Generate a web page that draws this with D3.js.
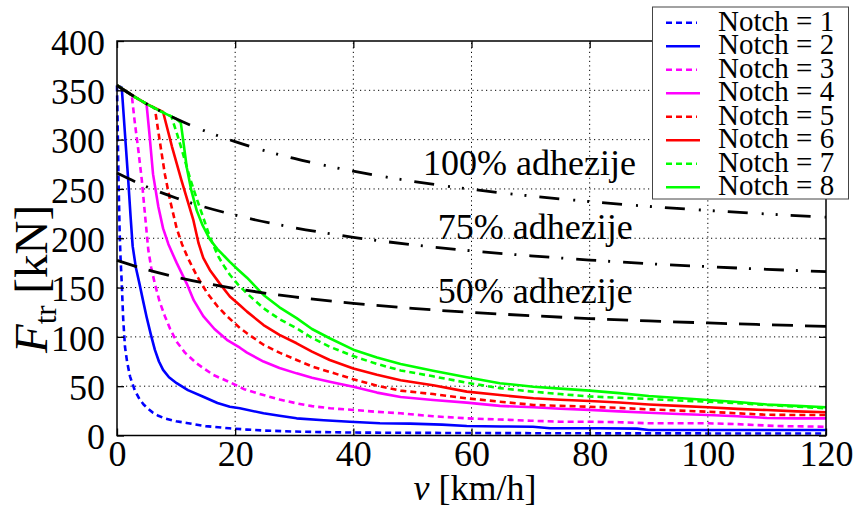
<!DOCTYPE html>
<html>
<head>
<meta charset="utf-8">
<script src="https://cdn.jsdelivr.net/npm/d3@7"></script>
<style>
  html, body { margin: 0; padding: 0; background: #fff; }
  svg { display: block; font-family: "Liberation Serif", "Times New Roman", serif; }
</style>
</head>
<body>
<svg id="chart" width="859" height="507"></svg>
<script>
// ---- data ----
const xTicks = [0, 20, 40, 60, 80, 100, 120];
const yTicks = [0, 50, 100, 150, 200, 250, 300, 350, 400];

const adhSpeeds = [0, 5, 10, 20, 30, 40, 50, 60, 70, 80, 90, 100, 110, 120];
const adh100 = [354.9, 336.3, 321.1, 297.9, 280.9, 268.0, 257.8, 249.6, 242.9, 237.2, 232.3, 228.2, 224.6, 221.4];
const adh75  = [266.2, 252.2, 240.8, 223.4, 210.7, 201.0, 193.4, 187.2, 182.2, 177.9, 174.2, 171.2, 168.5, 166.1];
const adh50  = [177.5, 168.2, 160.6, 149.0, 140.5, 134.0, 128.9, 124.8, 121.5, 118.6, 116.2, 114.1, 112.3, 110.7];
const adhLabels = ["100% adhezije", "75% adhezije", "50% adhezije"];
const adhLabelAnchor = [[51.8, 264.2], [54.3, 199.3], [54.3, 134.4]];

const notch1 = [[0,355],[0.1,320],[0.25,262],[0.45,205],[0.6,180],[0.8,155],[1.05,118],[1.35,90],[1.7,75],[2.2,60],[3,46],[3.8,37],[4.5,31.5],[5.3,27],[6.1,23],[7,20],[8,17.5],[10,14.5],[11.8,12.7],[15,9.5],[19,7.3],[22,6],[25,5],[30,4],[35,3.4],[40,3],[50,2.7],[60,2.5],[80,2.2],[100,2.1],[120,2]];
const notch2 = [[0,355],[0.8,353],[1.3,310],[1.9,259],[2.3,222],[2.65,192],[3.2,170],[3.8,154],[4.4,137],[5,120.5],[5.7,103],[6.4,87],[7.1,75],[7.8,66.5],[8.8,59],[10.1,53],[12,46],[14.6,39.3],[17,33],[19.1,29.2],[20.8,27.6],[24.8,22.5],[27.5,20],[30.4,17.4],[35,15.5],[39.4,14],[44.5,12.4],[49.6,12],[55,11],[59.2,9.6],[65,9.2],[70.4,8.9],[73.3,7.3],[81.8,7.3],[88,7],[90,5.6],[120,5.6]];
const notch3 = [[0,355],[2.5,345],[3,318],[3.6,290],[4.2,259],[4.8,220],[5.3,188],[5.8,170],[6.4,154],[7.2,136],[8.1,121],[9,108],[10.1,95],[11.5,84],[13.5,73],[16.3,61.4],[19.1,54],[21.5,47],[24.8,41],[27.5,36.5],[30.4,32.6],[33,29.8],[36.1,27.6],[40,25.9],[44,24],[48,22.5],[53.5,19.5],[59.2,17.4],[64.8,16.2],[70,15],[75,14],[80,14],[85,13.5],[90,12.4],[100,12.4],[105,11.5],[111.7,9.6],[120,8.9]];
const notch4 = [[0,355],[2.5,345.1],[5,336],[5.5,305],[6.1,265],[7,232],[7.8,210],[8.7,194],[9.5,183],[10.1,175],[11.8,154],[13,137],[14.6,121],[16.5,108],[18.6,97],[20.8,89],[22,84],[24.8,75],[27.5,68.5],[30.4,63],[33,58.5],[36,54.6],[40,49.5],[44,43.5],[48,39],[53.5,36],[59.2,33.3],[64.8,30],[70.5,28.6],[75,27.2],[80,26],[85,24.5],[90,23],[95,21.8],[100,20.8],[105,19.5],[110,17.8],[115,17.4],[120,17.4]];
const notch5 = [[0,355],[2.5,345.1],[5,336.3],[6.4,332],[7.2,300],[8.1,265],[9,238],[10.1,210],[11,194],[12,180],[13.5,162],[15.2,145],[17,131],[18.6,121],[20.8,109],[22,103.6],[24.8,92],[27.5,84],[30.4,76.6],[33,70],[36,64.5],[40,57],[44,50.5],[48,45.5],[53.5,42],[59.2,37.7],[64.8,34.3],[70.5,31],[75,30],[80,29.2],[85,28],[90,26.5],[95,25.3],[100,24.1],[105,22.5],[110,21],[115,20.8],[120,20.8]];
const notch6 = [[0,355],[2.5,345.1],[5,336.3],[7.8,328],[9.3,293],[10.9,259],[12.9,219],[13.8,195],[14.6,180],[15.8,167],[17.4,154],[19.1,141],[20.8,132],[22,125.6],[24.8,112],[27.5,102],[30.4,93.5],[33,85],[36,76.6],[40,68],[44,61.5],[48,56],[53.5,51],[59.2,44.5],[64.8,41],[70.5,37.7],[75,36.3],[80,35],[85,33.5],[90,31.5],[95,30],[100,28.6],[105,27],[110,25.8],[115,24.5],[120,23.5]];
const notch7 = [[0,355],[2.5,345.1],[5,336.3],[7.5,328.4],[9.2,323.5],[10.2,305],[11.2,285],[12.4,260],[13.5,240],[14.6,221],[15.5,205],[16.3,193],[17.2,181],[18.2,171],[19.1,163],[20.5,153],[22,144],[24.8,129],[27.5,118],[30.4,108.7],[33,99],[36,90],[40,80.5],[44,72.5],[48,66],[53.5,60],[59.2,53.5],[64.8,48],[70.5,44.4],[75,42],[80,39.6],[85,38.2],[90,37],[95,35.5],[100,34.3],[105,32.8],[110,31],[115,29.2],[120,27.6]];
const notch8 = [[0,355],[2.5,345.1],[5,336.3],[7.5,328.4],[10,321.1],[10.8,317],[11.3,295],[11.8,272],[12.6,248],[13.5,228],[14.5,213],[15.7,199],[17,189],[18.3,181],[19.1,176],[20.5,168],[22,160],[24.8,142.5],[27.5,130],[30.4,119],[33,108],[36,98.6],[40,87],[44,79],[48,72.5],[53.5,65.7],[59.2,59],[64.8,53],[70.5,49.5],[75,47.5],[80,45.5],[85,43],[90,40],[95,38],[100,36],[105,34],[110,31.5],[115,30],[120,28.6]];

const notchNames = ["Notch = 1","Notch = 2","Notch = 3","Notch = 4","Notch = 5","Notch = 6","Notch = 7","Notch = 8"];
const notchData = [notch1, notch2, notch3, notch4, notch5, notch6, notch7, notch8];
const notchColors = ["#0000ff","#0000ff","#ff00ff","#ff00ff","#ff0000","#ff0000","#00ff00","#00ff00"];
const notchDashed = [true, false, true, false, true, false, true, false];

// ---- drawing ----
const svg = d3.select("#chart");
const x = d3.scaleLinear().domain([0, 120]).range([117, 826]);
const y = d3.scaleLinear().domain([0, 400]).range([435.5, 41]);
const [x0, x1] = x.range();
const [y0, y1] = y.range();

// grid
const grid = svg.append("g");
grid.selectAll("line.gx").data(xTicks.slice(1, -1)).join("line")
  .attr("x1", d => x(d)).attr("x2", d => x(d)).attr("y1", y0).attr("y2", y1)
  .attr("stroke", "#000").attr("stroke-width", 1).attr("stroke-dasharray", "1.2,3.3");
grid.selectAll("line.gy").data(yTicks.slice(1, -1)).join("line")
  .attr("y1", d => y(d)).attr("y2", d => y(d)).attr("x1", x0).attr("x2", x1)
  .attr("stroke", "#000").attr("stroke-width", 1).attr("stroke-dasharray", "1.2,3.3");

// notch curves
const line = d3.line().x(d => x(d[0])).y(d => y(d[1]));
svg.append("g").selectAll("path").data(notchData).join("path")
  .attr("d", d => line(d))
  .attr("fill", "none")
  .attr("stroke", (d, i) => notchColors[i])
  .attr("stroke-width", 2.6)
  .attr("stroke-linejoin", "round")
  .attr("stroke-dasharray", (d, i) => notchDashed[i] ? "6,4" : null);

// adhesion curves
const adhLine = d3.line().x((d, i) => x(adhSpeeds[i])).y(d => y(d)).curve(d3.curveMonotoneX);
const adhSets = [adh100, adh75, adh50];
const adhDash = ["20,14,2,12,2,13", "20,12,2,13", "21,12"];
svg.append("g").selectAll("path").data(adhSets).join("path")
  .attr("d", d => adhLine(d))
  .attr("fill", "none").attr("stroke", "#000").attr("stroke-width", 2.8)
  .attr("stroke-dasharray", (d, i) => adhDash[i]);

// axes
const fmt = d3.format("d");
const axB = svg.append("g").attr("transform", `translate(0,${y0})`)
  .call(d3.axisBottom(x).tickValues(xTicks).tickSize(-7).tickPadding(5).tickFormat(fmt));
const axL = svg.append("g").attr("transform", `translate(${x0},0)`)
  .call(d3.axisLeft(y).tickValues(yTicks).tickSize(-7).tickPadding(12).tickFormat(fmt));
const axT = svg.append("g").attr("transform", `translate(0,${y1})`)
  .call(d3.axisTop(x).tickValues(xTicks).tickSize(-7).tickFormat(""));
const axR = svg.append("g").attr("transform", `translate(${x1},0)`)
  .call(d3.axisRight(y).tickValues(yTicks).tickSize(-7).tickFormat(""));
[axB, axL, axT, axR].forEach(a => {
  a.attr("font-family", null);
  a.select(".domain").remove();
  a.selectAll(".tick line").attr("stroke", "#000").attr("stroke-width", 1.3);
  a.selectAll("text").attr("font-size", 36).attr("fill", "#000");
});
axL.selectAll("text").attr("dy", "0.37em");
svg.append("rect").attr("x", x0).attr("y", y1).attr("width", x1 - x0).attr("height", y0 - y1)
  .attr("fill", "none").attr("stroke", "#000").attr("stroke-width", 1.5);

// adhesion labels
svg.append("g").selectAll("text").data(adhLabels).join("text")
  .attr("x", (d, i) => x(adhLabelAnchor[i][0]))
  .attr("y", (d, i) => y(adhLabelAnchor[i][1]))
  .attr("font-size", 36).attr("fill", "#000")
  .text(d => d);

// axis titles
const xt = svg.append("text").attr("x", 475).attr("y", 500).attr("text-anchor", "middle").attr("font-size", 36);
xt.append("tspan").attr("font-style", "italic").text("v");
xt.append("tspan").text(" [km/h]");

const yt = svg.append("text").attr("transform", "translate(47,279) rotate(-90)").attr("text-anchor", "middle").attr("font-size", 47);
yt.append("tspan").attr("font-style", "italic").text("F");
yt.append("tspan").attr("font-size", 31).attr("dy", 9).text("tr");
yt.append("tspan").attr("dy", -9).text(" [kN]");

// legend
const lg = svg.append("g");
lg.append("rect").attr("x", 652.5).attr("y", 7).attr("width", 196).attr("height", 192)
  .attr("fill", "#fff").attr("stroke", "#444").attr("stroke-width", 1);
const items = lg.selectAll("g.item").data(notchNames).join("g")
  .attr("transform", (d, i) => `translate(0,${30.7 + i * 23.5})`);
items.append("line").attr("x1", 666).attr("x2", (d, i) => notchDashed[i] ? 697 : 700)
  .attr("y1", -8).attr("y2", -8)
  .attr("stroke", (d, i) => notchColors[i]).attr("stroke-width", 2.6)
  .attr("stroke-dasharray", (d, i) => notchDashed[i] ? "6,4" : null);
items.append("text").attr("x", 718).attr("y", 0).attr("font-size", 29).text(d => d);
</script>
</body>
</html>
